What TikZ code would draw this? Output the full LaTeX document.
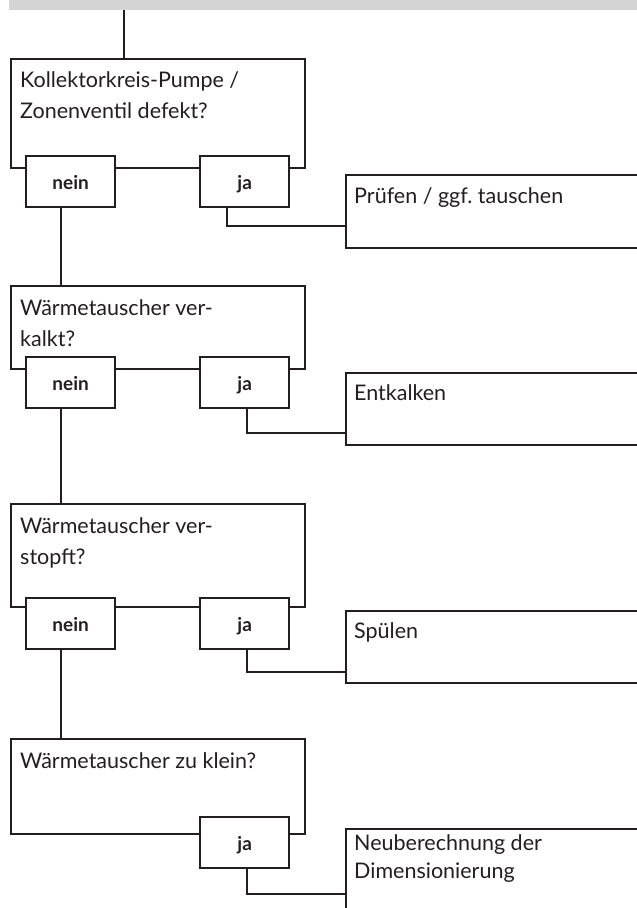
\documentclass[tikz,border=0pt]{standalone}
\usepackage{fontspec}
\setmainfont{Lato}
\definecolor{ink}{HTML}{231F20}
\definecolor{barfill}{HTML}{D4D4D4}
\begin{document}
\begin{tikzpicture}[x=1pt,y=-1pt,
  qbox/.style={draw=ink, line width=2.4pt, fill=white, inner sep=0pt, anchor=north west, minimum width=294pt},
  lbox/.style={draw=ink, line width=2.4pt, fill=white, inner sep=0pt, anchor=north west,
    minimum width=89pt, minimum height=51pt, text height=15pt, text depth=0pt,
    font=\fontsize{19}{22}\selectfont\bfseries, text=ink},
  rbox/.style={draw=ink, line width=2pt, fill=white, inner sep=0pt, anchor=north west, minimum width=320pt},
  qtext/.style={anchor=base west, inner sep=0pt, text=ink, font=\fontsize{21.5}{31}\selectfont},
  rtext/.style={anchor=base west, inner sep=0pt, text=ink, font=\fontsize{21.5}{28.5}\selectfont},
  conn/.style={draw=ink, line width=2pt}]
\useasboundingbox (0,0) rectangle (637,908);
\clip (0,0) rectangle (637,908);
% top bar
\node[fill=barfill, inner sep=0pt, anchor=north west, minimum width=640pt, minimum height=12pt] (bar) at (9,-2) {};
% ---- block 1
\node[qbox, minimum height=109pt] (q1) at (10,58) {};
\node[qtext] (q1t) at (20,87) {\parbox[t]{280pt}{Kollektorkreis-Pumpe /\\Zonenventil defekt?}};
\node[lbox] (n1) at (25,155) {nein};
\node[lbox] (j1) at (199,155) {ja};
\node[rbox, minimum height=73pt] (r1) at (345,174) {};
\node[rtext] (r1t) at (354,203) {Prüfen / ggf.\ tauschen};
% ---- block 2
\node[qbox, minimum height=83pt] (q2) at (10,285) {};
\node[qtext] (q2t) at (20,315) {\parbox[t]{280pt}{Wärmetauscher ver-\\kalkt?}};
\node[lbox] (n2) at (25,356) {nein};
\node[lbox] (j2) at (199,356) {ja};
\node[rbox, minimum height=72pt] (r2) at (345,372) {};
\node[rtext] (r2t) at (354,400) {Entkalken};
% ---- block 3
\node[qbox, minimum height=103pt] (q3) at (10,503) {};
\node[qtext] (q3t) at (20,533) {\parbox[t]{280pt}{Wärmetauscher ver-\\stopft?}};
\node[lbox] (n3) at (25,597) {nein};
\node[lbox] (j3) at (199,597) {ja};
\node[rbox, minimum height=72pt] (r3) at (345,610) {};
\node[rtext] (r3t) at (354,638) {Spülen};
% ---- block 4
\node[qbox, minimum height=95pt] (q4) at (10,738) {};
\node[qtext] (q4t) at (20,768) {Wärmetauscher zu klein?};
\node[lbox] (j4) at (199,816) {ja};
\node[rbox, minimum height=110pt] (r4) at (345,828) {};
\node[rtext] (r4t) at (354,850) {\parbox[t]{280pt}{Neuberechnung der\\Dimensionierung}};
% ---- connectors
\draw[conn] ([xshift=114pt]q1.north west) -- ([xshift=114pt]q1.north west |- bar.south);
\draw[conn] ([xshift=36pt]n1.south west) -- ([xshift=36pt]n1.south west |- q2.north);
\draw[conn] ([xshift=36pt]n2.south west) -- ([xshift=36pt]n2.south west |- q3.north);
\draw[conn] ([xshift=36pt]n3.south west) -- ([xshift=36pt]n3.south west |- q4.north);
\draw[conn] ([xshift=28pt]j1.south west) |- ([yshift=-52pt]r1.north west);
\draw[conn] ([xshift=48pt]j2.south west) |- ([yshift=-61pt]r2.north west);
\draw[conn] ([xshift=48pt]j3.south west) |- ([yshift=-62pt]r3.north west);
\draw[conn] ([xshift=48pt]j4.south west) |- ([yshift=-66pt]r4.north west);
\end{tikzpicture}
\end{document}
